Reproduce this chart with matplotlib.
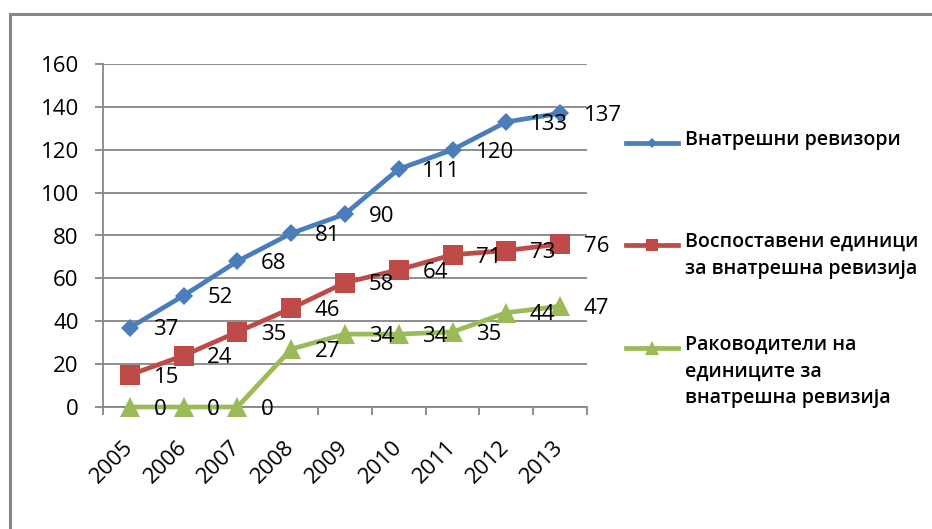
import matplotlib
matplotlib.use("Agg")
import matplotlib.pyplot as plt
from matplotlib.lines import Line2D
from matplotlib.patches import Rectangle
from matplotlib.ticker import MultipleLocator, FixedLocator

plt.rcParams['font.family'] = ['Open Sans', 'DejaVu Sans']

years = ["2005", "2006", "2007", "2008", "2009", "2010", "2011", "2012", "2013"]
auditors = [37, 52, 68, 81, 90, 111, 120, 133, 137]
units = [15, 24, 35, 46, 58, 64, 71, 73, 76]
heads = [0, 0, 0, 27, 34, 34, 35, 44, 47]

series_names = [
    "Внатрешни ревизори",
    "Воспоставени единици\nза внатрешна ревизија",
    "Раководители на\nединиците за\nвнатрешна ревизија",
]
colors = ["#4A7EBB", "#BE4B48", "#9BBB59"]

W, H, DPI = 932, 529, 100
fig = plt.figure(figsize=(W / DPI, H / DPI), dpi=DPI)
fig.patch.set_facecolor("white")

# outer chart frame (only top and left edges fall inside the image)
fig.patches.append(Rectangle((9.5 / W, -0.05), 1.1, 1 - 13.5 / H + 0.05,
                             transform=fig.transFigure, fill=False,
                             edgecolor="#868686", linewidth=2.2))

ax = fig.add_axes([103 / W, 1 - 407 / H, (587 - 103) / W, (407 - 64) / H])
x = list(range(len(years)))

styles = [dict(marker="D", markersize=9.5),
          dict(marker="s", markersize=14),
          dict(marker="^", markersize=14)]

FS = 16

for vals, col, st in zip([auditors, units, heads], colors, styles):
    ax.plot(x, vals, color=col, linewidth=3.4, markerfacecolor=col,
            markeredgecolor=col, markeredgewidth=0, zorder=3, clip_on=False, **st)
    for xi, v in zip(x, vals):
        ax.annotate(str(v), (xi, v), xytext=(17, -5.6), textcoords="offset points",
                    ha="left", va="baseline", fontsize=FS, color="black",
                    zorder=4, annotation_clip=False)

ax.set_xlim(-0.5, len(years) - 0.5)
ax.set_ylim(0, 160)
ax.yaxis.set_major_locator(MultipleLocator(20))
ax.yaxis.grid(True, color="#868686", linewidth=1.3)
ax.set_axisbelow(True)
ax.get_ygridlines()[1].set_linewidth(2.2)

ax.set_xticks(x)
ax.set_xticklabels(years)
ax.xaxis.set_minor_locator(FixedLocator([i - 0.5 for i in range(len(years) + 1)]))
ax.tick_params(axis="x", which="major", length=0, pad=27, labelsize=FS)
ax.tick_params(axis="x", which="minor", length=5.5, width=1.3, color="#868686",
               direction="out")
for lbl in ax.get_xticklabels():
    lbl.set_rotation(45)
    lbl.set_rotation_mode("anchor")
    lbl.set_ha("right")
    lbl.set_va("center")

ax.tick_params(axis="y", length=5.5, width=1.3, color="#868686", pad=12,
               labelsize=FS, direction="out")

for side in ["top", "right"]:
    ax.spines[side].set_visible(False)
for side in ["left", "bottom"]:
    ax.spines[side].set_color("#868686")
    ax.spines[side].set_linewidth(1.3)

# legend drawn with the handle aligned to the first text line
leg_rows = [143, 245, 348]
leg_markers = [dict(marker="D", markersize=5.5),
               dict(marker="s", markersize=9),
               dict(marker="^", markersize=10)]
for name, col, yrow, mk in zip(series_names, colors, leg_rows, leg_markers):
    yf = 1 - yrow / H
    fig.add_artist(Line2D([626 / W, 678 / W], [yf, yf], transform=fig.transFigure,
                          color=col, linewidth=3.4, zorder=5))
    fig.add_artist(Line2D([652 / W], [yf], transform=fig.transFigure,
                          color=col, linestyle="none", markerfacecolor=col,
                          markeredgewidth=0, zorder=6, **mk))
    fig.text(685 / W, yf, name, ha="left", va="top", fontsize=14,
             fontweight="semibold", linespacing=1.45, color="black",
             transform=fig.transFigure + matplotlib.transforms.ScaledTranslation(
                 0, 13 / DPI, fig.dpi_scale_trans))

fig.savefig("out.png", dpi=DPI, facecolor="white")
